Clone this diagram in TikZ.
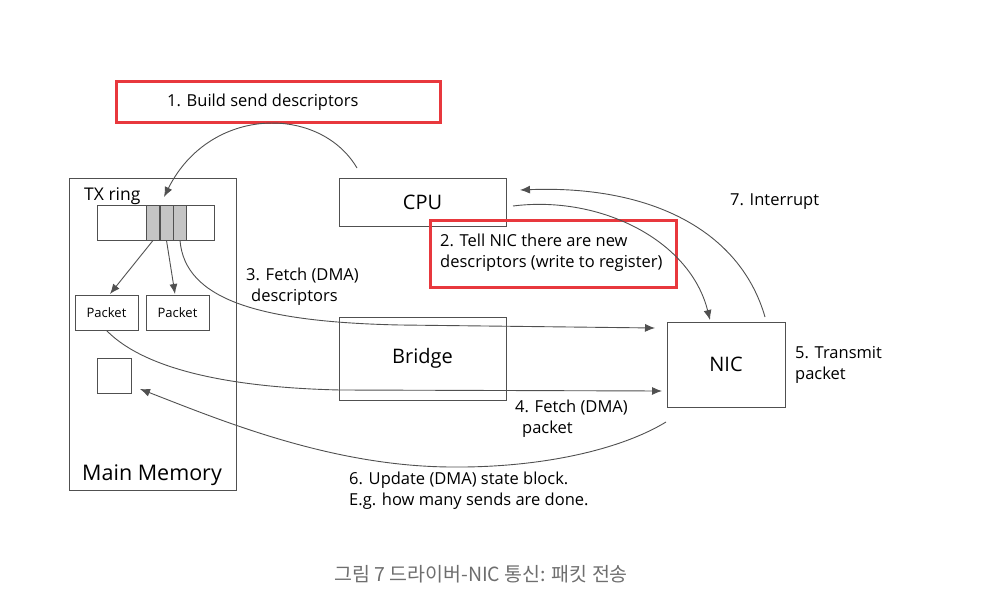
\documentclass[tikz,border=0pt]{standalone}
\usepackage{fontspec}
\setmainfont{Open Sans}
\newfontfamily\krfont{Noto Sans CJK KR}
\usetikzlibrary{arrows.meta}

\definecolor{linegray}{HTML}{505050}
\definecolor{markred}{HTML}{E8383D}
\definecolor{slotgray}{HTML}{C4C4C4}
\definecolor{captiongray}{HTML}{6E6E6E}

\tikzstyle{hwbox} = [rectangle, draw=linegray, line width=0.9pt, inner sep=0pt,
    font=\fontsize{20}{22}\selectfont]
\tikzstyle{slot} = [rectangle, draw=linegray, fill=slotgray, line width=0.9pt,
    minimum width=13pt, minimum height=35pt, inner sep=0pt]
\tikzstyle{packet} = [hwbox, minimum width=63pt, minimum height=35pt,
    font=\fontsize{13}{15}\selectfont]
\tikzstyle{redframe} = [rectangle, draw=markred, line width=3pt, inner sep=0pt]
\tikzstyle{note} = [align=left, anchor=base west, inner sep=0pt,
    font=\fontsize{16.5}{21}\selectfont]
\tikzstyle{flow} = [->, draw=linegray, line width=0.9pt]

\begin{document}
\begin{tikzpicture}[x=1pt, y=-1pt, >={Latex[length=10pt,width=8pt]}]
    \useasboundingbox (0,0) rectangle (998,607);

    % Nodes
    \node [hwbox, minimum width=167pt, minimum height=312pt] (mem) at (152.5,334) {};
    \node [note, font=\fontsize{21.5}{24}\selectfont] (memlabel) at (82,480) {Main Memory};
    \node [note, font=\fontsize{17.5}{21}\selectfont] (txlabel) at (84,200) {TX ring};
    \node [hwbox, minimum width=117pt, minimum height=35pt] (ring) at (155.5,222.5) {};
    \node [slot] (s1) at (153,222.5) {};
    \node [slot] (s2) at (166.5,222.5) {};
    \node [slot] (s3) at (180,222.5) {};
    \node [packet] (p1) at (106.5,312.5) {Packet};
    \node [packet] (p2) at (177.5,312.5) {Packet};
    \node [hwbox, minimum width=34pt, minimum height=35pt] (state) at (114,375.5) {};

    \node [hwbox, minimum width=167pt, minimum height=48pt] (cpu) at (422.5,202) {CPU};
    \node [hwbox, minimum width=167pt, minimum height=83pt] (bridge) at (422.5,358.5) {Bridge};
    \node [hwbox, minimum width=118pt, minimum height=85pt] (nic) at (726,364.5) {NIC};

    \node [redframe, minimum width=324pt, minimum height=41pt] (build) at (278,102.5) {};
    \node [note] (buildtext) at (167,107) {1. Build send descriptors};
    \node [redframe, minimum width=246pt, minimum height=67pt] (tell) at (553,253.5) {};
    \node [note] (telltext) at (440,267) {2. Tell NIC there are new\\descriptors (write to register)};
    \node [note] (fetchd) at (246,301) {3. Fetch (DMA)\\\hspace*{5pt}descriptors};
    \node [note] (fetchp) at (515,433) {4. Fetch (DMA)\\\hspace*{7pt}packet};
    \node [note] (xmit) at (795,379) {5. Transmit\\packet};
    \node [note] (update) at (349,505) {6. Update (DMA) state block.\\E.g. how many sends are done.};
    \node [note] (irq) at (730,205) {7. Interrupt};

    \node [font=\krfont\fontsize{19.5}{22}\selectfont, text=captiongray] (caption) at (481,574)
        {그림 7 드라이버-NIC 통신: 패킷 전송};

    % Connection points
    \coordinate (c1) at (357,168);
    \coordinate (c2) at (513,206);
    \coordinate (c7) at (520,190);
    \coordinate (n2) at (710,320);
    \coordinate (n7) at (765,317);
    \coordinate (r1) at (164,197);
    \coordinate (d3) at (655,328);
    \coordinate (d4) at (662,391);
    \coordinate (n6) at (666,422);
    \coordinate (m6) at (140,389);

    % Connections
    \draw [flow] (c1) .. controls (320,105) and (210,105) .. (r1);
    \draw [flow] (s1.south) -- (110,294);
    \draw [flow] (s2.south) -- (175,294);
    \draw [flow] (s3.south) .. controls (185,300) and (260,322) .. (400,325) -- (d3);
    \draw [flow] (p1.south) .. controls (150,375) and (250,388) .. (340,390) -- (d4);
    \draw [flow] (n6) .. controls (620,450) and (540,468) .. (450,467)
        .. controls (330,466) and (220,420) .. (m6);
    \draw [flow] (c2) .. controls (600,195) and (690,240) .. (n2);
    \draw [flow] (n7) .. controls (740,230) and (650,185) .. (c7);

\end{tikzpicture}
\end{document}
